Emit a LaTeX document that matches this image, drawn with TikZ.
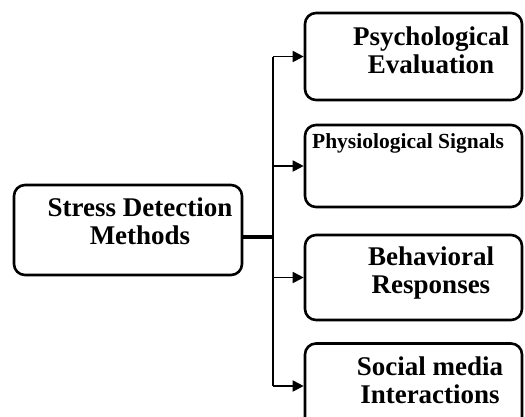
\documentclass[tikz,border=0pt]{standalone}
\usepackage{fontspec}
\setmainfont{Liberation Serif}
\usetikzlibrary{positioning, calc, arrows.meta}

\begin{document}
\begin{tikzpicture}[x=1pt, y=-1pt,
        box/.style={rectangle, draw=black, line width=2.6pt, rounded corners=11pt, inner sep=0pt},
        lbl/.style={align=center, font=\bfseries\fontsize{27}{28}\selectfont, inner sep=0pt},
        arrow/.style={-{Triangle[length=11pt, width=11pt]}, line width=1.8pt}
    ]
        \useasboundingbox (0,0) rectangle (525,416);
        % source box
        \node[box, minimum width=228pt, minimum height=90pt] (METHODS) at (128,230) {};
        \node[lbl] (METHODSTXT) at (140,221) {Stress Detection\\Methods};
        % target boxes
        \node[box, minimum width=217pt, minimum height=87pt] (PSYCH) at (413.5,56.5) {};
        \node[lbl] (PSYCHTXT) at (431,50) {Psychological\\Evaluation};
        \node[box, minimum width=217pt, minimum height=82pt] (PHYS) at (413.5,166) {};
        \node[lbl, font=\bfseries\fontsize{21.5}{24}\selectfont] (PHYSTXT) at (408,143) {Physiological Signals};
        \node[box, minimum width=217pt, minimum height=85pt] (BEHAV) at (413.5,277.5) {};
        \node[lbl] (BEHAVTXT) at (431,273) {Behavioral\\Responses};
        \node[box, minimum width=217pt, minimum height=85pt] (SOCIAL) at (413.5,386) {};
        \node[lbl] (SOCIALTXT) at (430,380) {Social media\\Interactions};
        % connectors
        \coordinate (SPINE) at (273,237);
        \draw[line width=3.2pt] (METHODS.east |- SPINE) -- (SPINE);
        \draw[line width=1.8pt] (SPINE |- PSYCH.west) -- (SPINE |- SOCIAL.west);
        \foreach \target in {PSYCH, PHYS, BEHAV, SOCIAL}
            \draw[arrow] (SPINE |- \target.west) -- (\target.west);
    \end{tikzpicture}
\end{document}
